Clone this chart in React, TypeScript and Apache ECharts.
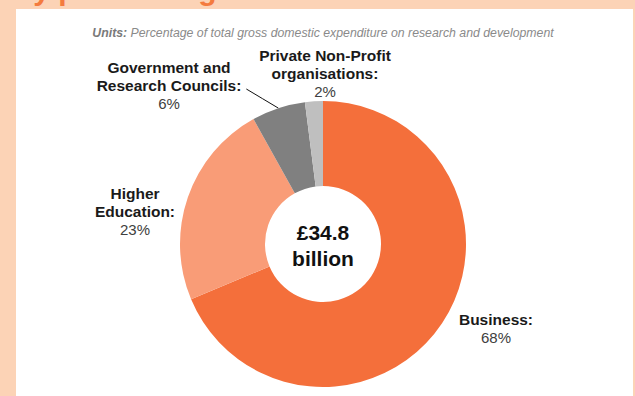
import React, { useEffect, useRef } from "react";
import * as echarts from "echarts";

// ---- data ----
const categories = [
  "Business",
  "Higher\nEducation",
  "Government and\nResearch Councils",
  "Private Non-Profit\norganisations",
];
const shares = [68, 23, 6, 2];
const sliceColors = ["#F46F3B", "#F99C77", "#808080", "#BFBFBF"];
const labelCenters = [
  [496, 328],
  [135, 211],
  [169, 85],
  [325, 73],
];
const totalBillion = 34.8;
const unitsNote =
  "Percentage of total gross domestic expenditure on research and development";
const titleText = "by performing sector";

const FONT = "'Liberation Sans', Arial, Helvetica, sans-serif";

export default function App() {
  const ref = useRef<HTMLDivElement>(null);

  useEffect(() => {
    if (!ref.current) return;
    const chart = echarts.init(ref.current, null, { renderer: "svg" });

    const data = categories.map((name, i) => ({
      name,
      value: shares[i],
      itemStyle: { color: sliceColors[i] },
      labelLine: { show: i === 2 },
    }));

    chart.setOption({
      animation: false,
      backgroundColor: "#FCD3B6",
      graphic: [
        {
          type: "rect",
          z: -5,
          shape: { x: 16, y: 9, width: 617, height: 400 },
          style: { fill: "#FFFFFF" },
          silent: true,
        },
        {
          type: "text",
          z: 10,
          x: 15,
          y: 4,
          style: {
            text: titleText,
            font: `bold 30px ${FONT}`,
            fill: "#F47B3E",
            align: "left",
            verticalAlign: "bottom",
          },
          silent: true,
        },
        {
          type: "text",
          z: 10,
          x: 323,
          y: 33,
          style: {
            text: `{b|Units:} {i|${unitsNote}}`,
            align: "center",
            verticalAlign: "middle",
            rich: {
              b: {
                fontFamily: FONT,
                fontSize: 12.3,
                fontStyle: "italic",
                fontWeight: "bold",
                fill: "#7A7A7A",
                color: "#7A7A7A",
              },
              i: {
                fontFamily: FONT,
                fontSize: 12.3,
                fontStyle: "italic",
                fill: "#8A8A8A",
                color: "#8A8A8A",
              },
            },
          },
          silent: true,
        },
        {
          type: "text",
          z: 100,
          x: 323,
          y: 245,
          style: {
            text: `£${totalBillion}\nbillion`,
            font: `bold 21px ${FONT}`,
            fill: "#111111",
            align: "center",
            verticalAlign: "middle",
            lineHeight: 26,
          },
          silent: true,
        },
      ],
      series: [
        {
          type: "pie",
          center: [323, 244],
          radius: [58, 143],
          startAngle: 90,
          clockwise: true,
          silent: true,
          avoidLabelOverlap: false,
          itemStyle: { borderWidth: 0 },
          emphasis: { disabled: true },
          label: {
            show: true,
            position: "outside",
            formatter: (p: any) => {
              const lines = String(p.name).split("\n");
              const named = lines
                .map((l, k) => `{n|${l}${k === lines.length - 1 ? ":" : ""}}`)
                .join("\n");
              return `${named}\n{p|${p.value}%}`;
            },
            rich: {
              n: {
                fontFamily: FONT,
                fontSize: 15.5,
                fontWeight: "bold",
                color: "#1A1A1A",
                lineHeight: 18,
                align: "center",
              },
              p: {
                fontFamily: FONT,
                fontSize: 15,
                color: "#404040",
                lineHeight: 18,
                align: "center",
              },
            },
          },
          labelLine: {
            show: true,
            length: 8,
            length2: 8,
            smooth: false,
            lineStyle: { color: "#111111", width: 1 },
          },
          labelLayout: (params: any) => {
            const i = params.dataIndex;
            const [cx, cy] = labelCenters[i];
            const res: any = {
              x: cx,
              y: cy,
              align: "center",
              verticalAlign: "middle",
            };
            if (i === 2 && params.labelLinePoints && params.labelLinePoints[0]) {
              const start = params.labelLinePoints[0];
              const end = [cx + params.labelRect.width / 2 + 5, cy + 4];
              const mid = [(start[0] + end[0]) / 2, (start[1] + end[1]) / 2];
              res.labelLinePoints = [start, mid, end];
            }
            return res;
          },
          data,
        },
      ],
    });

    return () => chart.dispose();
  }, []);

  return (
    <div
      ref={ref}
      style={{ position: "fixed", left: 0, top: 0, width: 635, height: 396 }}
    />
  );
}
